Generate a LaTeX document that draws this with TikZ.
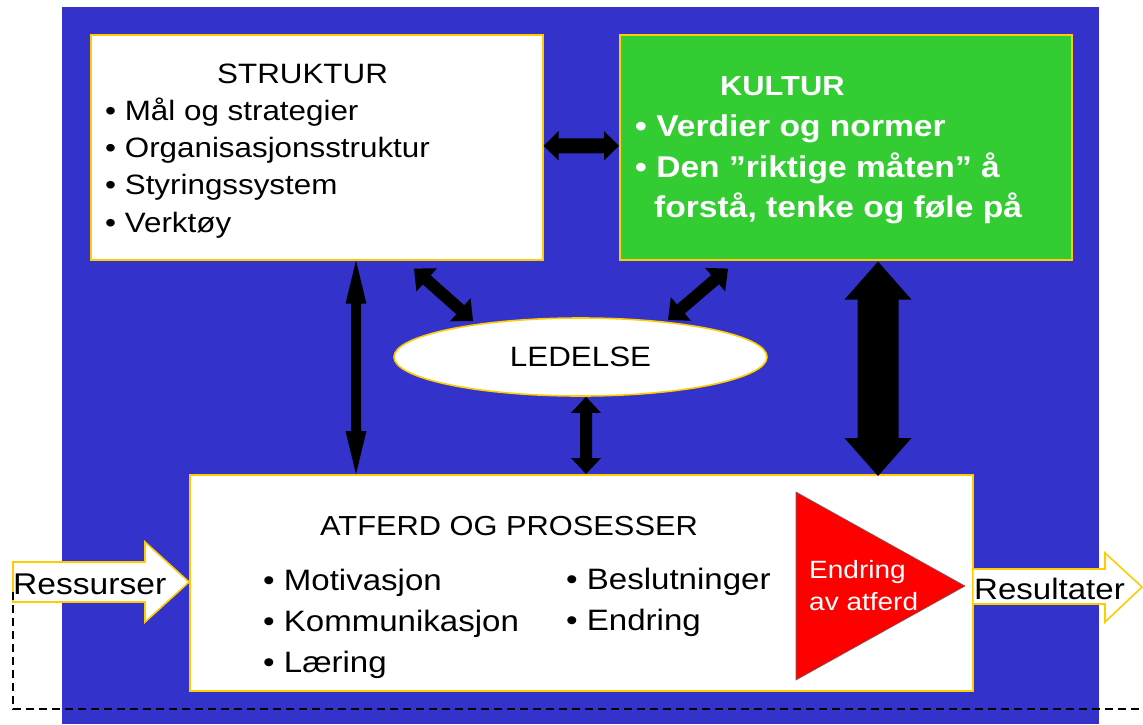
\documentclass[tikz,border=0pt]{standalone}
\usepackage{fontspec}
\setmainfont{Liberation Sans}[FakeStretch=1.12]
\usetikzlibrary{calc,shapes.geometric}
\definecolor{bg}{HTML}{3333CC}
\definecolor{grn}{HTML}{33CC33}
\definecolor{gold}{HTML}{FFCC00}
\definecolor{redA}{HTML}{FF0000}
\newcommand\fS{\fontsize{28pt}{33pt}\selectfont}
\newcommand\fKt{\fontsize{27.5pt}{33pt}\selectfont\bfseries}
\newcommand\fKb{\fontsize{30pt}{36pt}\selectfont\bfseries}
\newcommand\fL{\fontsize{28pt}{33pt}\selectfont}
\newcommand\fAt{\fontsize{27.5pt}{33pt}\selectfont}
\newcommand\fAb{\fontsize{29.5pt}{35pt}\selectfont}
\newcommand\fR{\fontsize{30pt}{36pt}\selectfont}
\newcommand\fE{\fontsize{25pt}{30pt}\selectfont}
% #1 from, #2 to, #3 half shaft, #4 half head, #5 head length
\newcommand\dblarrow[5]{%
  \coordinate (tA) at ($(#1)!#5!(#2)$);
  \coordinate (tB) at ($(#2)!#5!(#1)$);
  \fill[black] (#1) -- ($(tA)!#4!90:(#2)$) -- ($(tA)!#3!90:(#2)$)
    -- ($(tB)!#3!-90:(#1)$) -- ($(tB)!#4!-90:(#1)$) -- (#2)
    -- ($(tB)!#4!90:(#1)$) -- ($(tB)!#3!90:(#1)$)
    -- ($(tA)!#3!-90:(#2)$) -- ($(tA)!#4!-90:(#2)$) -- cycle;}
\begin{document}
\begin{tikzpicture}[x=1pt,y=-1pt,
  box/.style={draw=gold, line width=1.6pt, inner sep=0pt},
  lbl/.style={anchor=base west, inner sep=0pt},
  flowarrow/.style={draw=gold, fill=white, line width=1.6pt, line join=miter},
  feedback/.style={draw=black, line width=1.4pt, dash pattern=on 8pt off 5pt}]
\useasboundingbox (0,0) rectangle (1143,724);
\fill[bg] (62,7) rectangle (1099,724);
% boxes
\node[box, fill=white, anchor=north west, minimum width=452pt, minimum height=225pt] (struktur) at (90,34) {};
\node[box, fill=grn, anchor=north west, minimum width=452pt, minimum height=225pt] (kultur) at (619,34) {};
\node[box, fill=white, anchor=north west, minimum width=783pt, minimum height=216pt] (atferd) at (189,474) {};
\node[box, fill=white, ellipse, minimum width=373pt, minimum height=78pt, font=\fL] (ledelse) at (580.5,357) {LEDELSE};
% struktur text
\node[lbl, font=\fS] (s0) at (217,83) {STRUKTUR};
\node[lbl, font=\fS] (s1) at (105,120) {• Mål og strategier};
\node[lbl, font=\fS] (s2) at (105,157.3) {• Organisasjonsstruktur};
\node[lbl, font=\fS] (s3) at (105,194.6) {• Styringssystem};
\node[lbl, font=\fS] (s4) at (105,232) {• Verktøy};
% kultur text
\node[lbl, font=\fKt, text=white] (k0) at (720,95.7) {KULTUR};
\node[lbl, font=\fKb, text=white] (k1) at (635,136.5) {• Verdier og normer};
\node[lbl, font=\fKb, text=white] (k2) at (635,177) {• Den ”riktige måten” å};
\node[lbl, font=\fKb, text=white] (k3) at (654,217) {forstå, tenke og føle på};
% atferd text
\node[lbl, font=\fAt] (a0) at (320,535) {ATFERD OG PROSESSER};
\node[lbl, font=\fAb] (a1) at (263,590) {• Motivasjon};
\node[lbl, font=\fAb] (a2) at (263,631) {• Kommunikasjon};
\node[lbl, font=\fAb] (a3) at (263,672) {• Læring};
\node[lbl, font=\fAb] (a4) at (566,589) {• Beslutninger};
\node[lbl, font=\fAb] (a5) at (566,630) {• Endring};
% triangle
\coordinate (tri1) at (796,492);
\coordinate (tri2) at (965,586);
\coordinate (tri3) at (796,680);
\draw[fill=redA, draw=black!60, line width=0.6pt] (tri1) -- (tri2) -- (tri3) -- cycle;
\node[lbl, font=\fE, text=white] (e1) at (809,578) {Endring};
\node[lbl, font=\fE, text=white] (e2) at (809,610) {av atferd};
% input / output arrows
\draw[flowarrow] (13,562) -- (145,562) -- (145,542) -- (atferd.west |- 0,582) -- (145,622) -- (145,602) -- (13,602) -- cycle;
\node[lbl, font=\fR] (ress) at (13,594) {Ressurser};
\draw[flowarrow] (atferd.east |- 0,569) -- (1105,569) -- (1105,553) -- (1142,587) -- (1105,622) -- (1105,604) -- (atferd.east |- 0,604);
\node[lbl, font=\fAb] (res) at (974,599) {Resultater};
% feedback dashed line
\coordinate (fb0) at (13,592);
\coordinate (fb1) at (13,709);
\coordinate (fb2) at (1143,709);
\draw[feedback] (fb0) -- (fb1) -- (fb2);
% black connectors
\coordinate (h1) at ($(struktur.east)+(0,-1.5)$);
\coordinate (h2) at ($(kultur.west)+(0,-1.5)$);
\dblarrow{h1}{h2}{7.5pt}{14.7pt}{15pt}
\coordinate (v1) at ($(struktur.south west)+(266,0)$);
\coordinate (v2) at ($(atferd.north west)+(167,0)$);
\dblarrow{v1}{v2}{5pt}{10.5pt}{43pt}
\coordinate (d1) at ($(struktur.south west)+(324,8)$);
\coordinate (d2) at ($(ledelse.center)+(-107.5,-36)$);
\dblarrow{d1}{d2}{6pt}{15.5pt}{17pt}
\coordinate (d3) at ($(kultur.south west)+(109,8)$);
\coordinate (d4) at ($(ledelse.center)+(87.5,-37)$);
\dblarrow{d3}{d4}{6pt}{15.5pt}{17pt}
\coordinate (m1) at ($(ledelse.south)+(5.5,0)$);
\coordinate (m2) at ($(atferd.north west)+(397,0)$);
\dblarrow{m1}{m2}{6pt}{15pt}{16pt}
\coordinate (b1) at ($(kultur.south west)+(259,1)$);
\coordinate (b2) at ($(atferd.north west)+(689,2)$);
\dblarrow{b1}{b2}{20.5pt}{33.5pt}{38pt}
\end{tikzpicture}
\end{document}
